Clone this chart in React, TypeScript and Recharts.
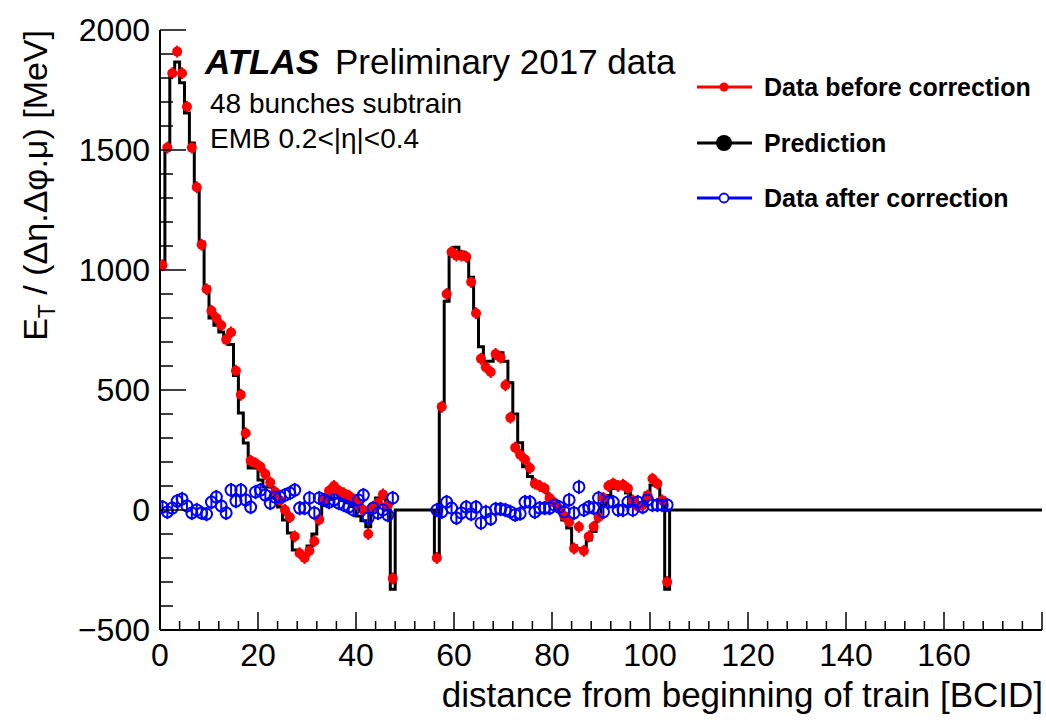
import { ComposedChart, Line, Scatter, XAxis, YAxis, ErrorBar } from "recharts";

// bin numbers where each train starts (bins are 1 BCID wide)
const FIRST_TRAIN_START = 0;
const SECOND_TRAIN_START = 56;
const X_MAX = 180;

// data before correction (red), one value per bin
const beforeTrain1 = [
  1020, 1510, 1820, 1910, 1820, 1680, 1510, 1345, 1105, 920, 830, 800, 770, 710,
  740, 580, 480, 320, 205, 195, 180, 150, 115, 75, 40, 0, -30, -110, -180, -200,
  -170, -130, -40, 40, 80, 100, 80, 70, 60, 45, 20, 0, -100, 10, 30, 65, 20, -285,
];
const beforeTrain2 = [
  -200, 430, 900, 1075, 1060, 1060, 1055, 950, 820, 630, 595, 575, 650, 635, 520,
  385, 260, 230, 210, 175, 110, 100, 90, 50, 30, 5, -25, -50, -160, -70, -170,
  -110, -70, -30, 50, 100, 110, 100, 105, 90, 40, 15, 20, 60, 130, 110, 40, -300,
];

// prediction (black histogram)
const predTrain1 = [
  1020, 1512, 1812, 1867, 1780, 1654, 1529, 1346, 1117, 930, 800, 770, 742, 720,
  690, 560, 404, 279, 175, 175, 125, 96, 96, 50, 12, -42, -96, -167, -187, -187,
  -150, -100, -40, 20, 45, 50, 50, 40, 30, 15, -25, -45, -70, 5, 50, 50, 0, -330,
];
const predTrain2 = [
  -190, 440, 870, 1070, 1095, 1075, 1050, 970, 820, 680, 620, 620, 640, 655, 620,
  530, 400, 280, 180, 140, 110, 96, 96, 55, 30, 12, -42, -75, -150, -160, -160,
  -125, -90, -29, 20, 60, 90, 96, 96, 71, 21, 21, 29, 71, 104, 104, 50, -330,
];

// data after correction (blue)
const afterTrain1 = [
  12, -8, 8, 37, 46, 17, -12, 0, -12, -17, 33, 54, 17, -12, 83, 37, 83, 42, 12, 75,
  83, 62, 29, 54, 54, 62, 71, 83, 8, 8, 50, -12, 50, 42, 33, 42, 29, 21, 12, 0, 42,
  62, -33, 8, -12, 0, -21, 50,
];
const afterTrain2 = [
  0, -8, 33, 8, -33, -12, 12, -17, 12, -54, -8, -37, 4, 4, 0, -8, -20, -15, 33, 33,
  -8, 8, 8, 8, 21, 12, -8, 42, -12, 96, 0, 12, 8, 50, -8, 33, 33, 0, 0, 33, 0, 33,
  12, 42, 21, 21, 21, 21,
];

const BEFORE_ERR = 25;
const AFTER_ERR = 30;

const xTicks = Array.from({ length: X_MAX / 4 + 1 }, (_, i) => i * 4);
const yTicks = Array.from({ length: 26 }, (_, i) => -500 + i * 100);

const FONT = "'Liberation Sans', Arial, Helvetica, sans-serif";

function toPoints(start: number, values: number[], err: number) {
  return values.map((y, i) => ({ x: start + i + 0.5, y, err }));
}

const beforeData = [
  ...toPoints(FIRST_TRAIN_START, beforeTrain1, BEFORE_ERR),
  ...toPoints(SECOND_TRAIN_START, beforeTrain2, BEFORE_ERR),
];
const afterData = [
  ...toPoints(FIRST_TRAIN_START, afterTrain1, AFTER_ERR),
  ...toPoints(SECOND_TRAIN_START, afterTrain2, AFTER_ERR),
];

// histogram outline: one point per bin low edge, empty bins are 0
const predictionSteps: { x: number; y: number }[] = [];
for (let b = 0; b < X_MAX; b++) {
  let v = 0;
  if (b >= FIRST_TRAIN_START && b < FIRST_TRAIN_START + predTrain1.length) v = predTrain1[b - FIRST_TRAIN_START];
  else if (b >= SECOND_TRAIN_START && b < SECOND_TRAIN_START + predTrain2.length) v = predTrain2[b - SECOND_TRAIN_START];
  predictionSteps.push({ x: b, y: v });
}
predictionSteps.push({ x: X_MAX, y: 0 });

const fmtY = (v: number) => (v < 0 ? `\u2212${-v}` : `${v}`);

const BottomTick = (p: any) => {
  const v = p.payload.value;
  const major = v % 20 === 0;
  return (
    <g>
      <line x1={p.x} x2={p.x} y1={p.y} y2={p.y - (major ? 18 : 9)} stroke="#000" strokeWidth={1.5} />
      {major && v < X_MAX && (
        <text x={p.x} y={p.y + 36} textAnchor="middle" fontSize={32} fontFamily={FONT} fill="#000">
          {v}
        </text>
      )}
    </g>
  );
};

const TopTick = (p: any) => {
  const major = p.payload.value % 20 === 0;
  return <line x1={p.x} x2={p.x} y1={p.y} y2={p.y + (major ? 18 : 9)} stroke="#000" strokeWidth={1.5} />;
};

const LeftTick = (p: any) => {
  const v = p.payload.value;
  const major = v % 500 === 0;
  return (
    <g>
      <line x1={p.x} x2={p.x + (major ? 26 : 13)} y1={p.y} y2={p.y} stroke="#000" strokeWidth={1.5} />
      {major && (
        <text x={p.x - 10} y={p.y + 11} textAnchor="end" fontSize={32} fontFamily={FONT} fill="#000">
          {fmtY(v)}
        </text>
      )}
    </g>
  );
};

const RightTick = (p: any) => {
  const major = p.payload.value % 500 === 0;
  return <line x1={p.x} x2={p.x - (major ? 26 : 13)} y1={p.y} y2={p.y} stroke="#000" strokeWidth={1.5} />;
};

const RedDot = (p: any) => <circle cx={p.cx} cy={p.cy} r={5} fill="#ff0000" />;
const BlueRing = (p: any) => (
  <circle cx={p.cx} cy={p.cy} r={5.5} fill="none" stroke="#0000ff" strokeWidth={2} />
);

const frame = { stroke: "#000", strokeWidth: 2 };

const legendItems = [
  { label: "Data before correction", color: "#ff0000", kind: "dot", y: 87 },
  { label: "Prediction", color: "#000000", kind: "big", y: 143 },
  { label: "Data after correction", color: "#0000ff", kind: "ring", y: 198 },
];

export default function App() {
  return (
    <div style={{ position: "absolute", left: 0, top: 0, width: 1046, height: 720, background: "#fff" }}>
      <ComposedChart width={1046} height={720} margin={{ top: 30, right: 4, bottom: 0, left: 0 }}>
        <XAxis
          dataKey="x"
          type="number"
          domain={[0, X_MAX]}
          ticks={xTicks}
          interval={0}
          height={90}
          tickSize={0}
          tickMargin={0}
          tickLine={false}
          axisLine={frame}
          tick={<BottomTick />}
          allowDataOverflow
        />
        <XAxis
          xAxisId="top"
          orientation="top"
          type="number"
          domain={[0, X_MAX]}
          ticks={xTicks}
          interval={0}
          height={0}
          tickSize={0}
          tickMargin={0}
          tickLine={false}
          axisLine={frame}
          tick={<TopTick />}
        />
        <YAxis
          type="number"
          domain={[-500, 2000]}
          ticks={yTicks}
          interval={0}
          width={160}
          tickSize={0}
          tickMargin={0}
          tickLine={false}
          axisLine={frame}
          tick={<LeftTick />}
          allowDataOverflow
        />
        <YAxis
          yAxisId="right"
          orientation="right"
          type="number"
          domain={[-500, 2000]}
          ticks={yTicks}
          interval={0}
          width={0}
          tickSize={0}
          tickMargin={0}
          tickLine={false}
          axisLine={frame}
          tick={<RightTick />}
        />
        <Scatter data={beforeData} dataKey="y" shape={RedDot} isAnimationActive={false}>
          <ErrorBar dataKey="err" direction="y" width={0} stroke="#ff0000" strokeWidth={2} />
        </Scatter>
        <Line
          data={predictionSteps}
          dataKey="y"
          type="stepAfter"
          stroke="#000"
          strokeWidth={3}
          dot={false}
          activeDot={false}
          isAnimationActive={false}
        />
        <Scatter data={afterData} dataKey="y" shape={BlueRing} isAnimationActive={false}>
          <ErrorBar dataKey="err" direction="y" width={0} stroke="#0000ff" strokeWidth={2} />
        </Scatter>
      </ComposedChart>

      <svg
        width={1046}
        height={720}
        style={{ position: "absolute", left: 0, top: 0, pointerEvents: "none" }}
        fontFamily={FONT}
      >
        <text x={205} y={74} fontSize={35} fontWeight="bold" fontStyle="italic">
          ATLAS
        </text>
        <text x={335} y={74} fontSize={35}>
          Preliminary 2017 data
        </text>
        <text x={210} y={113} fontSize={28}>
          48 bunches subtrain
        </text>
        <text x={210} y={148} fontSize={28}>
          EMB 0.2&lt;|η|&lt;0.4
        </text>

        {legendItems.map((it) => (
          <g key={it.label}>
            <line x1={697} x2={752} y1={it.y} y2={it.y} stroke={it.color} strokeWidth={3} />
            {it.kind === "dot" && <circle cx={724} cy={it.y} r={4.5} fill={it.color} />}
            {it.kind === "big" && <circle cx={724} cy={it.y} r={8} fill={it.color} />}
            {it.kind === "ring" && (
              <circle cx={724} cy={it.y} r={4.5} fill="#fff" stroke={it.color} strokeWidth={1.8} />
            )}
            <text x={764} y={it.y + 9} fontSize={25} fontWeight="bold">
              {it.label}
            </text>
          </g>
        ))}

        <text x={1043} y={707} textAnchor="end" fontSize={35}>
          distance from beginning of train [BCID]
        </text>
        <text transform="translate(47,30) rotate(-90)" textAnchor="end" fontSize={34}>
          E<tspan fontSize={23} dy={8}>T</tspan>
          <tspan dy={-8}> / (Δη.Δφ.μ) [MeV]</tspan>
        </text>
      </svg>
    </div>
  );
}
